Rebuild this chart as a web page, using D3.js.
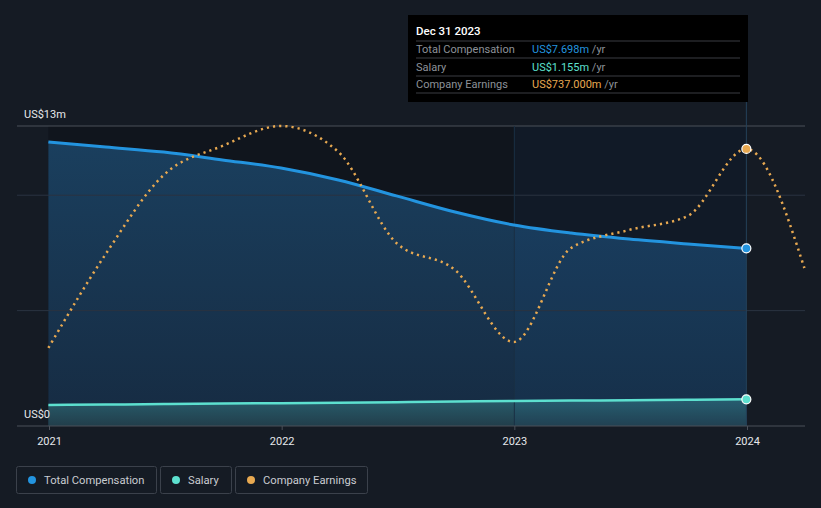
<!DOCTYPE html>
<html><head><meta charset="utf-8">
<script src="https://cdn.jsdelivr.net/npm/d3@7"></script>
<style>
html,body{margin:0;padding:0;background:#151b24;}
svg{display:block;font-family:Roboto,"Noto Sans",sans-serif;}
</style></head>
<body><svg id="c" width="821" height="508"></svg>
<script>
const dates = ["2020-12-31","2021-03-31","2021-06-30","2021-09-30","2021-12-31","2022-03-31","2022-06-30","2022-09-30","2022-12-31","2023-03-31","2023-06-30","2023-09-30","2023-12-31"];
const totalComp = [12.31,12.09,11.87,11.53,11.18,10.66,9.97,9.27,8.71,8.36,8.10,7.89,7.698];
const salary = [0.91,0.93,0.95,0.97,0.99,1.01,1.03,1.06,1.08,1.10,1.12,1.14,1.155];
const earnDates = ["2020-12-31","2021-03-31","2021-06-30","2021-09-30","2021-12-31","2022-03-31","2022-06-30","2022-09-30","2022-12-31","2023-03-31","2023-06-30","2023-09-30","2023-12-31","2024-03-31"];
const earnings = [207.5,457.5,667.7,744.9,798,728.9,486.8,415,223.5,473.5,521.4,558.6,737,420.3];
const yTicks = [0,5,10,13];
const yLabels = ["US$0","US$13m"];
const xTickYears = [2021,2022,2023,2024];
const legendItems = ["Total Compensation","Salary","Company Earnings"];
const tooltipRows = [["Total Compensation","US$7.698m"],["Salary","US$1.155m"],["Company Earnings","US$737.000m"]];

const C = {comp:"#2394df", sal:"#5de0cf", earn:"#e8a951"};
const svg = d3.select("#c");
const parse = d3.timeParse("%Y-%m-%d");
const x = d3.scaleTime().domain([new Date(2021,0,1), new Date(2024,0,1)]).range([49,747]);
const y = d3.scaleLinear().domain([0,13]).range([426,126]);
const ye = d3.scaleLinear().domain([0,798]).range([426,126]);

const comp = dates.map((d,i)=>({d:parse(d), v:totalComp[i]}));
const sal = dates.map((d,i)=>({d:parse(d), v:salary[i]}));
const earn = earnDates.map((d,i)=>({d:parse(d), v:earnings[i]}));
const xStart = x(comp[0].d), xEnd = x(comp[comp.length-1].d);
const xLastYear = x(new Date(2023,0,1));

const defs = svg.append("defs");
const g1 = defs.append("linearGradient").attr("id","gc").attr("x1",0).attr("x2",0).attr("y1",0).attr("y2",1);
g1.append("stop").attr("offset","0%").attr("stop-color","#1a3f5e");
g1.append("stop").attr("offset","100%").attr("stop-color","#162b42");
const g2 = defs.append("linearGradient").attr("id","gs").attr("x1",0).attr("x2",0).attr("y1",0).attr("y2",1);
g2.append("stop").attr("offset","0%").attr("stop-color","#2a6270");
g2.append("stop").attr("offset","100%").attr("stop-color","#23404c");

// plot background
svg.append("rect").attr("x",xStart).attr("y",y(13)).attr("width",xEnd-xStart).attr("height",y(0)-y(13)).attr("fill","#10151d");

// areas
svg.append("path").datum(comp).attr("fill","url(#gc)")
  .attr("d", d3.area().x(d=>x(d.d)).y0(y(0)).y1(d=>y(d.v)).curve(d3.curveMonotoneX));
svg.append("path").datum(sal).attr("fill","url(#gs)").attr("opacity",0.9)
  .attr("d", d3.area().x(d=>x(d.d)).y0(y(0)).y1(d=>y(d.v)).curve(d3.curveMonotoneX));

// last-year highlight overlay
svg.append("rect").attr("x",xLastYear).attr("y",y(13)).attr("width",xEnd-xLastYear).attr("height",y(0)-y(13))
  .attr("fill","#2a7fc8").attr("opacity",0.06);

// gridlines
svg.selectAll(".grid").data(yTicks.filter(t=>t>0)).enter().append("line")
  .attr("x1",17).attr("x2",805).attr("y1",d=>y(d)).attr("y2",d=>y(d))
  .attr("stroke",d=>d===13?"#4b5059":"#2a3340").attr("stroke-width",1);

// last year divider and crosshair
svg.append("line").attr("x1",xLastYear).attr("x2",xLastYear).attr("y1",y(13)).attr("y2",y(0)).attr("stroke","#1a3044").attr("stroke-width",1);
svg.append("line").attr("x1",xEnd).attr("x2",xEnd).attr("y1",100).attr("y2",y(0)).attr("stroke","#25415a").attr("stroke-width",1);

// x axis
const xa = svg.append("g").attr("transform",`translate(0,${y(0)})`)
  .call(d3.axisBottom(x).tickValues(xTickYears.map(yr=>new Date(yr,0,1))).tickFormat(d3.timeFormat("%Y")).tickSize(4));
xa.select(".domain").remove();
xa.append("line").attr("x1",17).attr("x2",805).attr("stroke","#4b5059");
xa.selectAll(".tick line").attr("stroke","#4b5059");
xa.selectAll(".tick text").attr("fill","#e6e8eb").attr("font-size",11).attr("dy","1.05em").attr("font-family","Roboto,sans-serif");

// y labels
svg.selectAll(".yl").data([0,13]).enter().append("text")
  .attr("x",24).attr("y",d=>y(d)-8).attr("fill","#e6e8eb").attr("font-size",11)
  .text(d=>d===0?yLabels[0]:yLabels[1]);

// lines
svg.append("path").datum(sal).attr("fill","none").attr("stroke",C.sal).attr("stroke-width",2.5)
  .attr("d", d3.line().x(d=>x(d.d)).y(d=>y(d.v)).curve(d3.curveMonotoneX));
svg.append("path").datum(comp).attr("fill","none").attr("stroke",C.comp).attr("stroke-width",3)
  .attr("d", d3.line().x(d=>x(d.d)).y(d=>y(d.v)).curve(d3.curveMonotoneX));
svg.append("path").datum(earn).attr("fill","none").attr("stroke",C.earn).attr("stroke-width",2.5)
  .attr("stroke-dasharray","2.2,4")
  .attr("d", d3.line().x(d=>x(d.d)).y(d=>ye(d.v)).curve(d3.curveMonotoneX));

// end markers
const last = comp.length-1;
[[x(comp[last].d), y(comp[last].v), C.comp],[x(sal[last].d), y(sal[last].v), C.sal],[x(earn[12].d), ye(earn[12].v), C.earn]].forEach(p=>{
  svg.append("circle").attr("cx",p[0]).attr("cy",p[1]).attr("r",4.5).attr("fill",p[2]).attr("stroke","#ffffff").attr("stroke-width",1.2);
});

// tooltip
const tt = svg.append("g").attr("transform","translate(408,15)");
tt.append("rect").attr("width",340).attr("height",87).attr("fill","#000000");
tt.append("text").attr("x",8).attr("y",20).attr("fill","#ffffff").attr("font-size",11.5).attr("font-weight",500).text("Dec 31 2023");
[26,43,61,78].forEach(yy=>tt.append("line").attr("x1",8).attr("x2",332).attr("y1",yy).attr("y2",yy).attr("stroke","#3a3d42"));
const tcols=[C.comp,C.sal,C.earn];
tooltipRows.forEach((r,i)=>{
  const yy = 38+i*17.5;
  tt.append("text").attr("x",8).attr("y",yy).attr("fill","#8d9299").attr("font-size",11).text(r[0]);
  const t = tt.append("text").attr("x",124).attr("y",yy).attr("font-size",11);
  t.append("tspan").attr("fill",tcols[i]).text(r[1]);
  t.append("tspan").attr("fill","#8d9299").text(" /yr");
});

// legend
const lx=[16,160,235], lw=[140,71,132];
legendItems.forEach((s,i)=>{
  const lg = svg.append("g").attr("transform",`translate(${lx[i]},466)`);
  lg.append("rect").attr("x",0.5).attr("y",0.5).attr("width",lw[i]).attr("height",27).attr("rx",2).attr("fill","none").attr("stroke","#3b414b");
  lg.append("circle").attr("cx",16).attr("cy",14).attr("r",4).attr("fill",tcols[i]);
  lg.append("text").attr("x",28).attr("y",18).attr("fill","#c9ccd1").attr("font-size",11.2).text(s);
});
</script></body></html>
